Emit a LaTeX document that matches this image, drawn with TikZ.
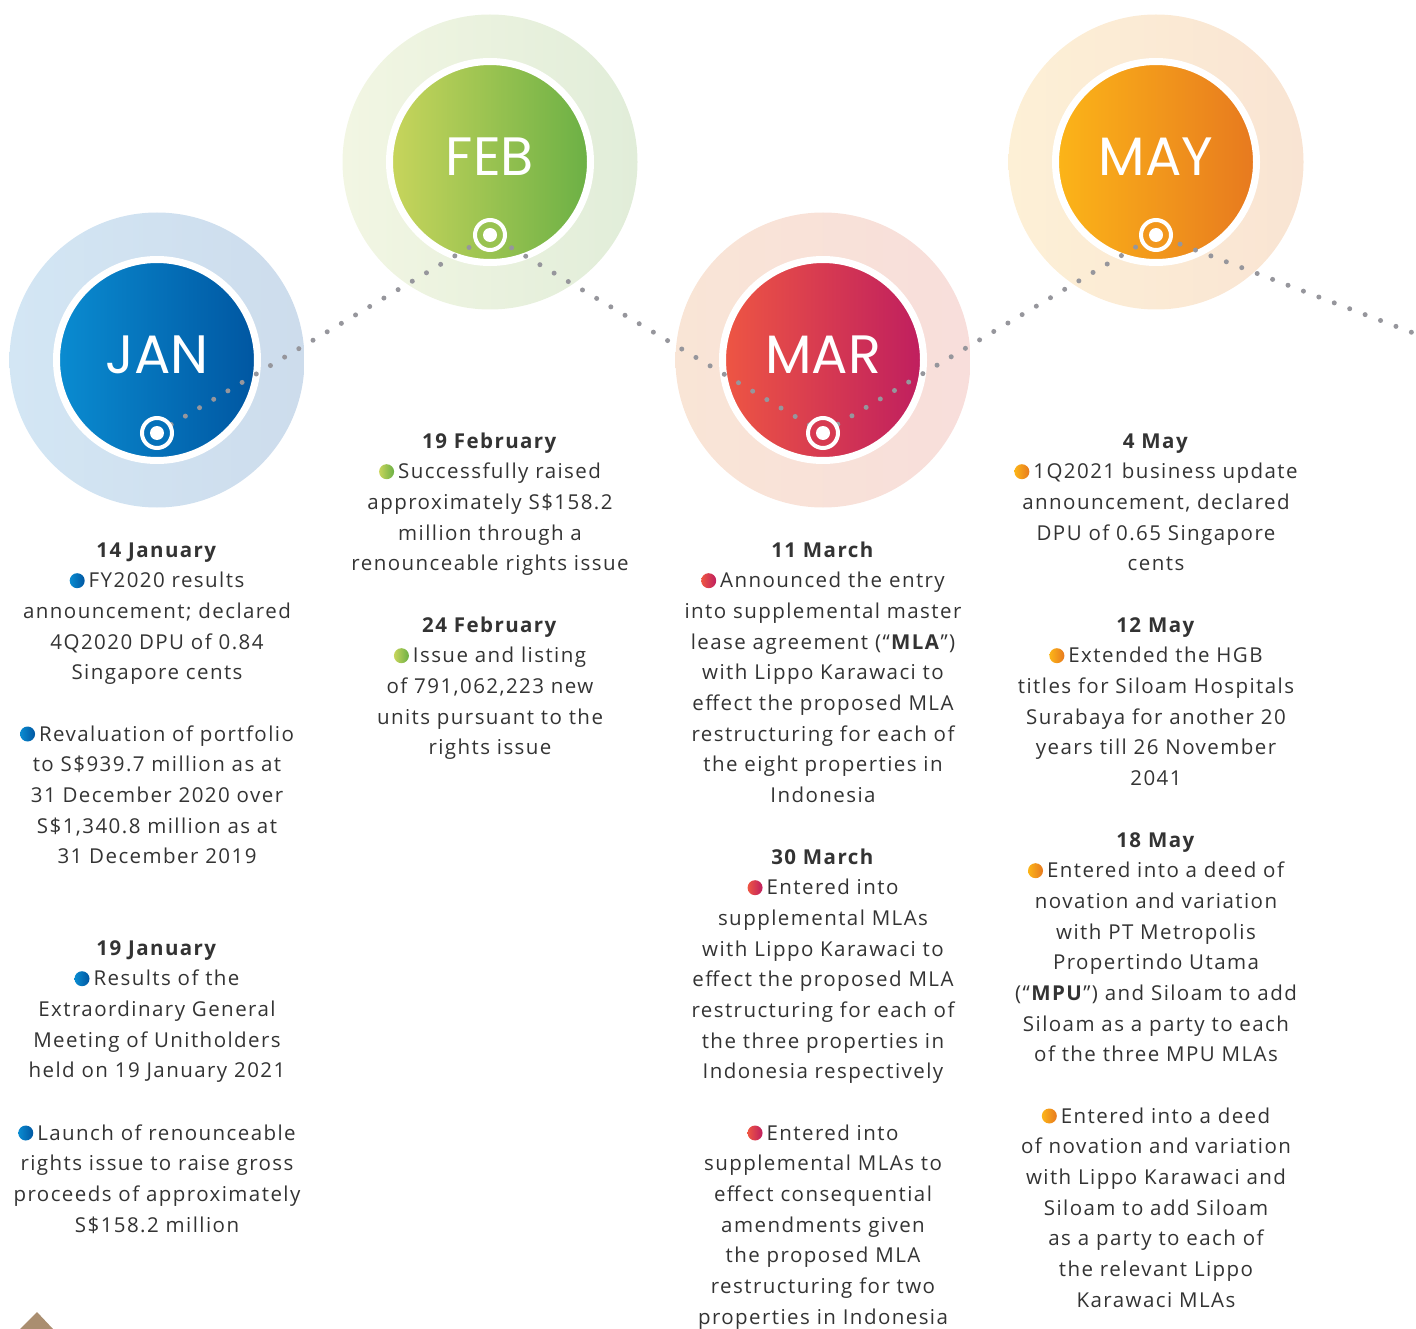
\documentclass[tikz,border=0pt]{standalone}
\usepackage{fontspec}
\setmainfont{Open Sans}[LetterSpace=7]
\newfontfamily\monthfont{Poppins}
\usetikzlibrary{calc,positioning}

\definecolor{ink}{HTML}{333333}
\definecolor{dotgray}{RGB}{150,150,156}
\definecolor{janA}{HTML}{0A8CD1}\definecolor{janB}{HTML}{0056A1}
\definecolor{janC}{HTML}{D3E6F4}\definecolor{janD}{HTML}{CDDCEC}
\definecolor{febA}{HTML}{C8D55C}\definecolor{febB}{HTML}{6BB045}
\definecolor{febC}{HTML}{F2F6E3}\definecolor{febD}{HTML}{E1EDD9}
\definecolor{marA}{HTML}{EE5643}\definecolor{marB}{HTML}{BF1E5F}
\definecolor{marC}{HTML}{F9E5D6}\definecolor{marD}{HTML}{F8DEDB}
\definecolor{mayA}{HTML}{FCB518}\definecolor{mayB}{HTML}{E7791F}
\definecolor{mayC}{HTML}{FDF0D6}\definecolor{mayD}{HTML}{F9E4D3}
\definecolor{roof}{RGB}{170,142,112}

% small shaded bullet in front of an item
\newcommand\bul[2]{\tikz[baseline=-7pt]\shade[left color=#1,right color=#2] (0,0) circle (7.5pt);\hspace{4pt}}

\begin{document}
\begin{tikzpicture}[x=1pt,y=-1pt,inner sep=0pt,
  halo/.style 2 args={circle,minimum size=295pt,left color=#1,right color=#2},
  disk/.style 2 args={circle,minimum size=201pt,draw=white,line width=7pt,left color=#1,right color=#2},
  mlabel/.style={text=white,font=\monthfont\fontsize{54}{54}\selectfont},
  trg/.style={circle,minimum size=30pt,draw=white,line width=4pt,fill=#1},
  hub/.style={circle,minimum size=14pt,fill=white},
  trail/.style={draw=dotgray,line width=5pt,line cap=round,dash pattern=on 0pt off 16.5pt},
  txt/.style={text width=360pt,align=center,anchor=base,text=ink,font=\fontsize{20.5}{30.7}\selectfont}]
\useasboundingbox (0,0) rectangle (1416,1329);

% month circles
\node [halo={janC}{janD}] (janh) at (157,360) {};
\node [halo={febC}{febD}] (febh) at (490,162) {};
\node [halo={marC}{marD}] (marh) at (823,360) {};
\node [halo={mayC}{mayD}] (mayh) at (1156,162) {};
\node [disk={janA}{janB}] (jan) at (janh) {};
\node [disk={febA}{febB}] (feb) at (febh) {};
\node [disk={marA}{marB}] (mar) at (marh) {};
\node [disk={mayA}{mayB}] (may) at (mayh) {};
\node [mlabel] (janl) at ($(jan)+(0,-5)$) {JAN};
\node [mlabel] (febl) at ($(feb)+(0,-5)$) {FEB};
\node [mlabel] (marl) at ($(mar)+(0,-5)$) {MAR};
\node [mlabel] (mayl) at ($(may)+(0,-5)$) {MAY};

% dotted time line
\coordinate (jant) at ($(jan)+(0,73)$);
\coordinate (febt) at ($(feb)+(0,73)$);
\coordinate (mart) at ($(mar)+(0,73)$);
\coordinate (mayt) at ($(may)+(0,73)$);
\coordinate (tail) at (1416,334);
\draw [trail] (jant) -- (febt) -- (mart) -- (mayt) -- (tail);

% markers
\node [trg=janA!50!janB] (janm) at (jant) {};
\node [trg=febA!50!febB] (febm) at (febt) {};
\node [trg=marA!50!marB] (marm) at (mart) {};
\node [trg=mayA!50!mayB] (maym) at (mayt) {};
\foreach \m in {janm,febm,marm,maym}
  \node [hub] at (\m) {};

% January
\node [txt] (jan1) at (157,557) {\textbf{14 January}\\
  \bul{janA}{janB}FY2020 results\\ announcement; declared\\ 4Q2020 DPU of 0.84\\ Singapore cents};
\node [txt] (jan2) at (157,741) {\bul{janA}{janB}Revaluation of portfolio\\
  to S\$939.7 million as at\\ 31 December 2020 over\\ S\$1,340.8 million as at\\ 31 December 2019};
\node [txt] (jan3) at (157,955) {\textbf{19 January}\\
  \bul{janA}{janB}Results of the\\ Extraordinary General\\ Meeting of Unitholders\\ held on 19 January 2021};
\node [txt] (jan4) at (157,1140) {\bul{janA}{janB}Launch of renounceable\\
  rights issue to raise gross\\ proceeds of approximately\\ S\$158.2 million};

% February
\node [txt] (feb1) at (490,448) {\textbf{19 February}\\
  \bul{febA}{febB}Successfully raised\\ approximately S\$158.2\\ million through a\\ renounceable rights issue};
\node [txt] (feb2) at (490,632) {\textbf{24 February}\\
  \bul{febA}{febB}Issue and listing\\ of 791,062,223 new\\ units pursuant to the\\ rights issue};

% March
\node [txt] (mar1) at (823,557) {\textbf{11 March}\\
  \bul{marA}{marB}Announced the entry\\ into supplemental master\\ lease agreement (“\textbf{MLA}”)\\
  with Lippo Karawaci to\\ effect the proposed MLA\\ restructuring for each of\\ the eight properties in\\ Indonesia};
\node [txt] (mar2) at (823,864) {\textbf{30 March}\\
  \bul{marA}{marB}Entered into\\ supplemental MLAs\\ with Lippo Karawaci to\\ effect the proposed MLA\\
  restructuring for each of\\ the three properties in\\ Indonesia respectively};
\node [txt] (mar3) at (823,1140) {\bul{marA}{marB}Entered into\\
  supplemental MLAs to\\ effect consequential\\ amendments given\\ the proposed MLA\\ restructuring for two\\ properties in Indonesia};

% May
\node [txt] (may1) at (1156,448) {\textbf{4 May}\\
  \bul{mayA}{mayB}1Q2021 business update\\ announcement, declared\\ DPU of 0.65 Singapore\\ cents};
\node [txt] (may2) at (1156,632) {\textbf{12 May}\\
  \bul{mayA}{mayB}Extended the HGB\\ titles for Siloam Hospitals\\ Surabaya for another 20\\ years till 26 November\\ 2041};
\node [txt] (may3) at (1156,847) {\textbf{18 May}\\
  \bul{mayA}{mayB}Entered into a deed of\\ novation and variation\\ with PT Metropolis\\ Propertindo Utama\\
  (“\textbf{MPU}”) and Siloam to add\\ Siloam as a party to each\\ of the three MPU MLAs};
\node [txt] (may4) at (1156,1123) {\bul{mayA}{mayB}Entered into a deed\\
  of novation and variation\\ with Lippo Karawaci and\\ Siloam to add Siloam\\ as a party to each of\\ the relevant Lippo\\ Karawaci MLAs};

% corner of a picture cut off at the bottom
\fill [roof] (20,1329) -- (37,1312) -- (53,1329) -- cycle;
\end{tikzpicture}
\end{document}
